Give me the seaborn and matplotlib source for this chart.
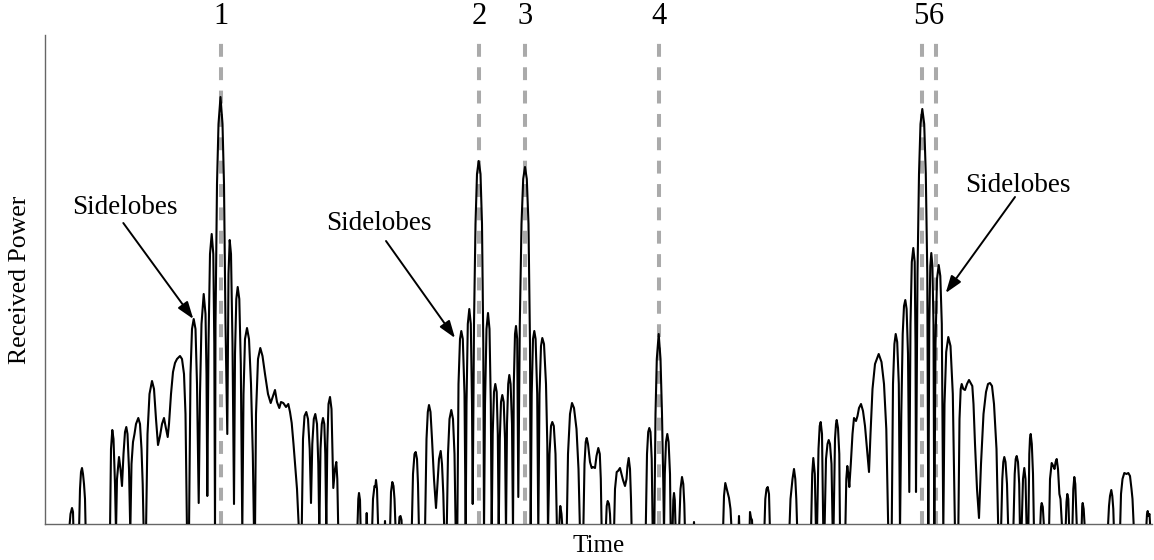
import numpy as np
import pandas as pd
import matplotlib
matplotlib.use("Agg")
import matplotlib.pyplot as plt
import seaborn as sns

# received power trace (time, power) in screen-ish units
t_a = [69, 70.5, 72, 73, 73.5,
       79, 80, 81, 82, 83, 84, 85, 85.7,
       110, 111, 112.3, 113.5, 115, 116,
       117, 119, 120.5, 122, 123.5, 125, 126.3, 127.5, 129, 130.3,
       131.5, 133, 134.5, 136, 138.3, 140, 141.5, 142.7, 143.7,
       146, 147.5, 149.5, 152, 154, 156, 158, 160, 162, 164, 165.5, 167.7, 169, 171, 173, 175, 177, 180, 182, 184, 185.5, 187,
       189, 190.5, 192, 193.7, 195.5, 197, 198.7,
       200, 201.5, 203.7, 205.5, 206.5, 207.3,
       208.5, 210, 211.7, 213.3, 214.3, 215,
       215.5, 217, 218.5, 220.5, 222.5, 224, 225.5, 227.3,
       228.5, 229.7, 231, 232.5, 234,
       235, 236.3, 237.7, 239.3, 240.8, 242.3,
       243.5, 245, 247, 249, 251, 252.8, 254,
       255, 256, 258, 260.3, 262.5, 265, 268, 270.7, 273, 275, 277, 279.3, 281, 283.3, 286, 288.3, 290, 291.7, 293.5, 295, 297, 299,
       301.7, 303, 304.5, 306.3, 308, 309.7, 311,
       312.3, 313.8, 315.3, 317, 318.3, 319.3,
       320.5, 321.8, 323, 324.3, 325.3, 326.3,
       327.3, 328.5, 330, 331.5, 332.5, 333.3, 335, 336.3, 337.3, 338.3]
p_a = [0, 10, 16, 12, 0,
       0, 35, 52, 56, 50, 40, 25, 0,
       0, 75, 94, 85, 40, 0,
       45, 67, 55, 38, 70, 92, 97, 90, 55, 0,
       60, 82, 90, 100, 106, 100, 75, 40, 0,
       0, 90, 130, 143, 135, 105, 79, 88, 100, 106, 98, 87, 100, 130, 152, 161, 165, 168, 165, 150, 110, 0,
       0, 150, 195, 205, 195, 140, 21,
       130, 200, 230, 210, 150, 28,
       180, 270, 290, 270, 180, 0,
       200, 340, 400, 427, 400, 340, 200, 90,
       250, 284, 270, 180, 20,
       170, 225, 237, 225, 160, 0,
       130, 185, 196, 185, 140, 70, 0,
       0, 110, 165, 176, 168, 150, 130, 121, 128, 134, 122, 116, 122, 121, 117, 120, 112, 101, 80, 61, 35, 0,
       0, 85, 108, 112, 105, 75, 21,
       80, 105, 110, 100, 60, 0,
       75, 100, 106, 100, 70, 0,
       80, 120, 127, 115, 70, 36, 55, 62, 45, 0]

t_b = [357.3, 358.3, 359, 360, 360.7,
       366, 366.7, 367.3,
       372, 373, 374.5, 375.3, 376, 377, 378.3,
       384.5, 385, 385.5,
       390, 391, 392.3, 393.5, 394.5, 395.7,
       398.5, 399.5, 400.5, 401.5, 402,
       411.7, 413, 414.5, 415.7, 417, 418, 419,
       425, 426.5, 427.8, 429, 430.5, 432, 434, 436, 437.5, 439, 440.7, 442, 443.3, 444.3,
       446.7, 448, 449.5, 451.3, 453, 454.5, 455.7,
       457.3, 458.5, 460, 461.3, 462.8, 464.5, 465.7,
       466.5, 467.8, 469.3, 470.8, 472, 472.7,
       474, 475.5, 477, 478.7, 480.5, 482, 483.3, 484,
       485, 486.5, 488, 489.5, 490.8, 491.7,
       492.7, 494, 495.3, 496.7, 497.8, 498.7,
       499.8, 501, 502.3, 503.7, 505, 506,
       507, 508.2, 509.3, 510.6, 512, 513,
       513.8, 515, 516, 517.2, 518.3,
       519.8, 521.5, 523.2, 525, 526.8, 528.5, 530, 530.7,
       531.7, 533, 534.3, 535.6, 537.2, 538.3,
       539.5, 541, 542.3, 544, 546, 547.3, 548,
       549.5, 551, 552.3, 553.8, 555.5, 557,
       559, 560, 560.3, 561.5, 562.7,
       566.7, 568, 570, 572, 574, 576.5, 578.5, 580,
       583.3, 584.5, 585.7, 586.7, 588, 590, 591.7, 593, 595, 596.5, 598.3, 599.8, 600.8, 601.7,
       605.7, 606.7, 607.7, 609, 610, 610.7,
       614, 615, 616.7, 618, 620, 621.5, 623, 625, 626.5, 627.5, 628.7, 630, 631, 631.7,
       645.7, 647, 648.2, 649.3, 650.5, 651.7, 652.7,
       654.3, 655.5, 656.8, 658.7, 660.5, 662, 663.3, 664,
       664.8, 666, 667.3, 668.6, 670, 670.7,
       672.5, 673.3, 674, 674.8, 675.7,
       679, 680.5, 682, 683.3, 684.3, 685,
       693.5, 694, 694.5]
p_b = [0, 25, 31, 24, 0,
       0, 11, 0,
       0, 25, 38, 37, 44, 35, 0,
       0, 3, 0,
       0, 32, 42, 38, 25, 0,
       0, 7, 8, 4, 0,
       0, 50, 70, 72, 65, 40, 0,
       0, 85, 112, 119, 112, 85, 45, 16, 40, 65, 73, 60, 30, 0,
       0, 70, 105, 114, 105, 70, 0,
       0, 140, 185, 193, 185, 130, 0,
       120, 200, 215, 200, 120, 20,
       200, 300, 350, 363, 350, 300, 180, 0,
       120, 195, 211, 195, 120, 0,
       90, 132, 140, 132, 90, 0,
       85, 122, 129, 122, 85, 0,
       100, 140, 149, 140, 100, 0,
       140, 190, 198, 185, 27,
       200, 300, 345, 357, 345, 300, 180, 0,
       130, 185, 193, 185, 130, 0,
       130, 178, 186, 180, 140, 80, 0,
       70, 98, 102, 98, 70, 0,
       0, 15, 18, 10, 0,
       0, 70, 110, 121, 116, 95, 55, 0,
       0, 60, 82, 86, 80, 62, 56, 57, 56, 68, 76, 70, 45, 0,
       0, 18, 23, 20, 10, 0,
       0, 35, 52, 53, 56, 50, 44, 38, 45, 58, 66, 55, 25, 0,
       0, 70, 92, 96, 92, 65, 0,
       0, 110, 165, 190, 165, 110, 40, 0,
       50, 82, 90, 82, 50, 0,
       0, 24, 31, 24, 0,
       0, 35, 47, 40, 20, 0,
       0, 2, 0]

t_c = [723, 724, 725.3, 726.5, 728, 729, 730.5, 731.7,
       738.5, 739, 739.5,
       749.5, 750, 751, 752, 752.5,
       764.3, 765.3, 766.5, 767.7, 769, 770,
       789.3, 790.5, 792.5, 794, 795.3, 796.3, 797.3,
       811, 812.2, 813.3, 814.8, 816,
       817, 818.5, 819.7, 820.7, 822, 823.3,
       824.5, 826, 827.5, 828.7, 830, 831.5, 832.7,
       833.5, 835, 836, 836.7, 838, 839.3, 840,
       845.3, 846.3, 847.3, 848.3, 849.3, 850.8, 852.5, 854, 856, 857.5, 859, 861, 863, 865, 867, 869,
       870.5, 872.5, 875, 878.7, 881.5, 884, 886.3, 888.3,
       891.7, 893, 894.4, 895.7, 897.2, 898.8, 900,
       901.3, 902.7, 904, 905.3, 906.6, 908, 909.3,
       910.5, 911.8, 913.3, 914.7, 915.5, 916,
       917.5, 919, 920.5, 922.3, 924.2, 925.8, 927.3, 928.3,
       929.3, 930.3, 931.3, 932.4, 933.5, 934.3,
       935.5, 937, 938.7, 940.3, 941.8, 943.3,
       944.5, 946.2, 948.3, 950.5, 952.8, 955,
       958.3, 959.5, 960.7, 961.7, 963.3, 965, 967, 969, 970.7, 972.3, 973.5, 975, 977, 979,
       981, 983.5, 986, 988, 990, 992, 994, 996.5, 998.3]
p_c = [0, 28, 41, 36, 30, 26, 15, 0,
       0, 8, 0,
       0, 12, 6, 4, 0,
       0, 25, 35, 37, 30, 0,
       0, 25, 45, 55, 45, 25, 0,
       0, 50, 66, 50, 0,
       0, 75, 98, 102, 90, 0,
       0, 65, 80, 84, 80, 60, 0,
       0, 85, 100, 104, 96, 70, 0,
       0, 45, 58, 50, 37, 60, 90, 106, 103, 108, 116, 120, 113, 98, 75, 52,
       90, 135, 160, 170, 162, 140, 95, 0,
       0, 140, 180, 190, 182, 140, 0,
       110, 190, 218, 224, 215, 170, 32,
       200, 262, 276, 262, 180, 32,
       250, 350, 400, 415, 400, 350, 250, 0,
       200, 258, 271, 258, 200, 0,
       180, 245, 259, 248, 200, 0,
       120, 172, 187, 178, 130, 0,
       0, 105, 135, 140, 135, 134, 140, 144, 141, 138, 120, 80, 35, 6,
       60, 110, 132, 140, 141, 138, 120, 75, 0]

t_d = [1001, 1002.3, 1003.3, 1004.3, 1005.5, 1007, 1008.3,
       1013.3, 1014.7, 1015.7, 1016.7, 1018, 1019.2, 1020,
       1021.5, 1023, 1024.3, 1025.5, 1026.7,
       1028.3, 1029.3, 1030, 1030.7, 1031.8, 1033, 1034,
       1040, 1041, 1041.7, 1042.8, 1044.3,
       1049, 1050, 1051.7, 1053.3, 1054.5, 1055.6, 1056.7, 1058, 1059.4, 1060.5, 1062.3,
       1065.5, 1066.5, 1067.3, 1068.3, 1069.3,
       1072.3, 1073.3, 1074.3, 1075.3, 1077,
       1081.5, 1082.2, 1082.7, 1083.7, 1085,
       1107.7, 1109, 1110, 1111.3, 1112.3, 1113.3, 1114,
       1120, 1121, 1122.5, 1124.3, 1126.5, 1128.3, 1130, 1131.5, 1132.5, 1134,
       1146, 1147, 1147.7, 1148.5, 1149.5, 1150.5]
p_d = [0, 45, 62, 67, 62, 40, 0,
       0, 50, 65, 68, 62, 40, 0,
       0, 45, 56, 45, 0,
       0, 70, 86, 90, 80, 50, 0,
       0, 17, 21, 17, 0,
       0, 45, 61, 58, 55, 62, 65, 55, 30, 25, 0,
       0, 22, 30, 25, 0,
       0, 35, 47, 40, 0,
       0, 18, 21, 15, 0,
       0, 18, 28, 34, 28, 15, 0,
       0, 30, 45, 51, 50, 51, 48, 35, 25, 0,
       0, 10, 13, 8, 10, 0]

# targets (dashed markers)
target_t = [220.5, 478.7, 525, 658.7, 922.3, 936]
target_lbl = ["1", "2", "3", "4", "5", "6"]
label_t = [220.5, 479, 525, 658.7, 920.5, 936.5]

time = np.array(t_a + t_b + t_c + t_d)
power = np.array(p_a + p_b + p_c + p_d, dtype=float)
# nulls of the trace sit below the visible floor
power = np.where(power <= 0, -8, power)
df = pd.DataFrame({"time": time, "power": power})

sns.set_style("white")
plt.rcParams["font.family"] = ["Liberation Serif", "DejaVu Serif"]
plt.rcParams["text.color"] = "black"
plt.rcParams["axes.labelcolor"] = "black"

W, H = 1154, 560
fig = plt.figure(figsize=(W / 100, H / 100), dpi=100)
ax = fig.add_axes([45 / W, 1 - 524 / H, (1152 - 45) / W, (524 - 35) / H])

for x in target_t:
    ax.axvline(x, color="#aaaaaa", lw=2.9, dashes=(3.2, 2.6), zorder=1)

sns.lineplot(data=df, x="time", y="power", ax=ax, color="black", lw=1.5,
             sort=False, estimator=None, zorder=3)

ax.set_xlim(45, 1152)
ax.set_ylim(0, 489)
ax.set_xticks([])
ax.set_yticks([])
for s in ["top", "right"]:
    ax.spines[s].set_visible(False)
for s in ["left", "bottom"]:
    ax.spines[s].set_color("#666666")
    ax.spines[s].set_linewidth(1.0)

for x, lbl in zip(label_t, target_lbl):
    ax.text(x, 507, lbl, ha="center", va="center", fontsize=22, clip_on=False)

# sidelobe call-outs
notes = [((124.5, 316), (123.3, 301), (193.3, 205)),
         ((379, 300), (386, 283), (455, 186)),
         ((1018, 338), (1015, 327), (945.7, 231))]
for (tx, ty), start, end in notes:
    ax.text(tx, ty, "Sidelobes", ha="center", va="center", fontsize=19.5)
    ax.annotate("", xy=end, xytext=start,
                arrowprops=dict(arrowstyle="-|>,head_length=0.8,head_width=0.28",
                                color="black", lw=1.4, mutation_scale=13,
                                shrinkA=0, shrinkB=0))

ax.set_xlabel("Time", fontsize=18, labelpad=8)
ax.set_ylabel("Received Power", fontsize=18.5, labelpad=10)

fig.savefig("out.png", dpi=100)
